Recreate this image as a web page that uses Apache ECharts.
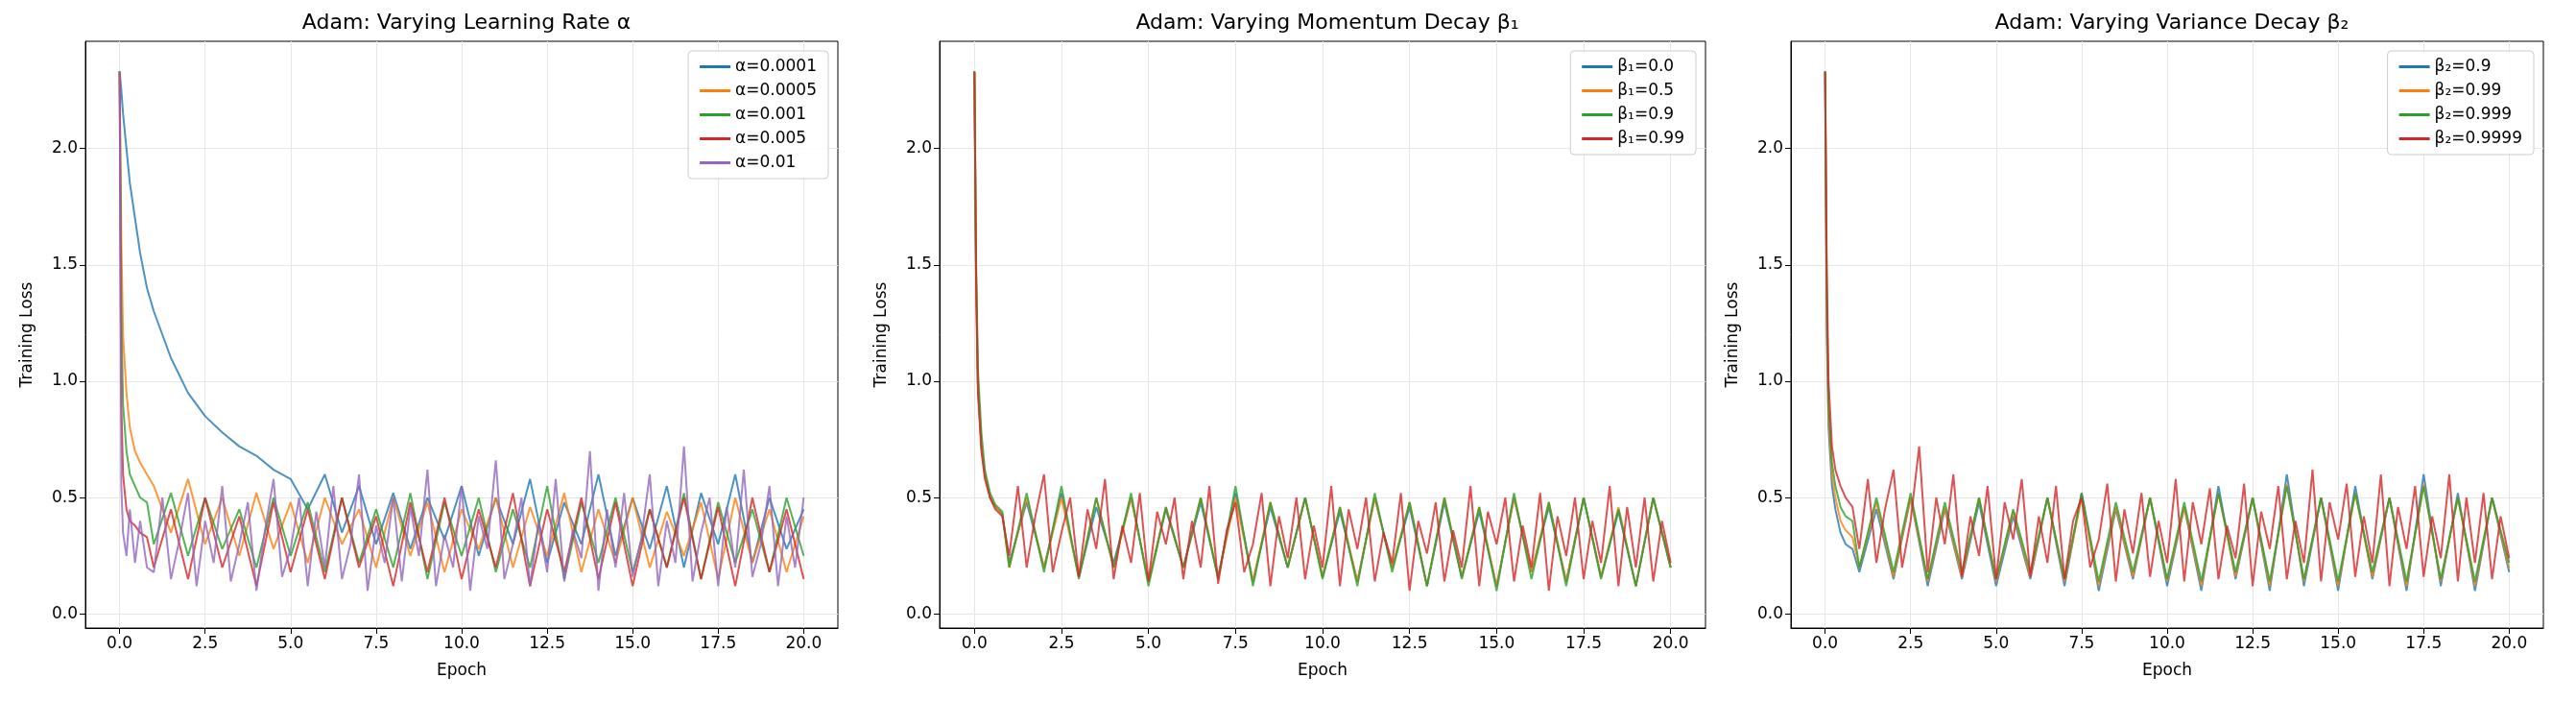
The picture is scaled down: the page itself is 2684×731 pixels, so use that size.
<!DOCTYPE html><html><head><meta charset="utf-8"><script src="https://cdn.jsdelivr.net/npm/echarts@6/dist/echarts.min.js"></script>
<style>html,body{margin:0;background:#fff}#c{width:2684px;height:731px}</style></head><body><div id="c"></div><script>
const epochsHead=[0,0.05,0.1,0.2,0.3,0.45,0.6,0.8];
const epochsTail=[1,1.5,2,2.5,3,3.5,4,4.5,5,5.5,6,6.5,7,7.5,8,8.5,9,9.5,10,10.5,11,11.5,12,12.5,13,13.5,14,14.5,15,15.5,16,16.5,17,17.5,18,18.5,19,19.5,20];
const epochsDenseTail=[1,1.25,1.5,1.75,2,2.25,2.5,2.75,3,3.25,3.5,3.75,4,4.25,4.5,4.75,5,5.25,5.5,5.75,6,6.25,6.5,6.75,7,7.25,7.5,7.75,8,8.25,8.5,8.75,9,9.25,9.5,9.75,10,10.25,10.5,10.75,11,11.25,11.5,11.75,12,12.25,12.5,12.75,13,13.25,13.5,13.75,14,14.25,14.5,14.75,15,15.25,15.5,15.75,16,16.25,16.5,16.75,17,17.25,17.5,17.75,18,18.25,18.5,18.75,19,19.25,19.5,19.75,20];
const epochs=epochsHead.concat(epochsTail);
const epochsDense=epochsHead.concat(epochsDenseTail);
const xTicks=[0,2.5,5,7.5,10,12.5,15,17.5,20];
const yTicks=[0,0.5,1,1.5,2];
// Panel 1
const lr1=[2.33,2.25,2.15,2.0,1.85,1.7,1.55,1.4,1.3,1.1,0.95,0.85,0.78,0.72,0.68,0.62,0.58,0.45,0.6,0.35,0.55,0.3,0.52,0.28,0.5,0.32,0.55,0.25,0.5,0.3,0.58,0.22,0.48,0.3,0.6,0.25,0.5,0.28,0.55,0.2,0.52,0.3,0.6,0.22,0.5,0.28,0.45];
const lr2=[2.33,1.6,1.2,0.95,0.8,0.7,0.65,0.6,0.55,0.35,0.58,0.3,0.5,0.25,0.52,0.28,0.48,0.22,0.5,0.3,0.45,0.2,0.5,0.25,0.48,0.18,0.45,0.28,0.5,0.2,0.46,0.25,0.52,0.18,0.45,0.22,0.5,0.2,0.44,0.25,0.48,0.15,0.5,0.22,0.45,0.18,0.42];
const lr3=[2.33,1.3,0.9,0.7,0.6,0.55,0.5,0.48,0.3,0.52,0.25,0.5,0.28,0.45,0.2,0.5,0.25,0.48,0.18,0.5,0.22,0.45,0.2,0.52,0.15,0.48,0.25,0.5,0.18,0.45,0.2,0.55,0.15,0.48,0.22,0.5,0.18,0.45,0.2,0.52,0.15,0.48,0.22,0.45,0.18,0.5,0.25];
const lr4=[2.33,0.9,0.6,0.45,0.4,0.38,0.35,0.33,0.2,0.45,0.15,0.5,0.2,0.42,0.12,0.48,0.18,0.45,0.15,0.5,0.2,0.42,0.12,0.48,0.18,0.5,0.15,0.45,0.2,0.52,0.12,0.45,0.18,0.5,0.15,0.48,0.12,0.45,0.2,0.5,0.15,0.46,0.12,0.5,0.18,0.45,0.15];
const lr5=[2.33,0.55,0.35,0.25,0.45,0.22,0.4,0.2,
 0.18,0.5,0.15,0.32,0.52,0.12,0.4,0.22,0.55,0.14,0.3,0.48,0.1,0.36,0.58,0.16,0.28,0.5,0.12,0.44,0.2,0.55,0.15,0.3,
 0.6,0.1,0.38,0.22,0.5,0.14,0.46,0.25,0.62,0.12,0.34,0.2,0.55,0.1,0.42,0.28,0.66,0.15,0.3,0.5,0.12,0.4,0.18,0.58,
 0.14,0.36,0.24,0.7,0.1,0.45,0.2,0.52,0.16,0.32,0.6,0.12,0.4,0.22,0.72,0.14,0.35,0.5,0.12,0.46,0.2,0.62,0.16,0.3,
 0.55,0.12,0.42,0.2,0.5];
// Panel 2
const b1a=[2.33,1.45,1.0,0.72,0.6,0.5,0.46,0.43,0.22,0.48,0.2,0.52,0.16,0.46,0.22,0.5,0.14,0.45,0.2,0.48,0.16,0.52,0.14,0.46,0.2,0.5,0.16,0.44,0.14,0.5,0.2,0.46,0.12,0.48,0.16,0.44,0.12,0.5,0.18,0.46,0.14,0.5,0.16,0.44,0.12,0.5,0.2];
const b1b=[2.33,1.42,0.98,0.72,0.6,0.5,0.46,0.43,0.2,0.5,0.2,0.5,0.16,0.5,0.2,0.5,0.14,0.46,0.2,0.5,0.16,0.5,0.14,0.48,0.2,0.5,0.16,0.46,0.14,0.5,0.2,0.48,0.12,0.5,0.16,0.46,0.12,0.5,0.18,0.48,0.14,0.5,0.16,0.46,0.12,0.5,0.2];
const b1c=[2.33,1.5,1.05,0.78,0.62,0.52,0.47,0.44,0.2,0.52,0.18,0.55,0.15,0.5,0.2,0.52,0.12,0.46,0.2,0.5,0.15,0.55,0.12,0.48,0.2,0.5,0.15,0.46,0.12,0.52,0.18,0.48,0.12,0.5,0.15,0.46,0.1,0.52,0.15,0.48,0.12,0.5,0.15,0.45,0.12,0.5,0.2];
const b1d=[2.33,1.4,0.95,0.7,0.58,0.5,0.45,0.42,
 0.25,0.55,0.2,0.42,0.6,0.18,0.35,0.5,0.16,0.45,0.28,0.58,0.15,0.38,0.22,0.52,0.14,0.44,0.3,0.5,0.15,0.4,0.2,0.55,
 0.13,0.36,0.48,0.18,0.3,0.52,0.12,0.42,0.24,0.5,0.15,0.38,0.2,0.55,0.12,0.45,0.28,0.5,0.14,0.35,0.22,0.52,0.1,0.4,
 0.26,0.48,0.14,0.36,0.2,0.55,0.12,0.44,0.3,0.5,0.14,0.38,0.2,0.52,0.1,0.42,0.25,0.5,0.15,0.4,0.22,0.55,0.12,0.46,
 0.2,0.5,0.14,0.4,0.22];
// Panel 3
const b2a=[2.33,1.2,0.8,0.55,0.45,0.35,0.3,0.28,0.18,0.45,0.15,0.5,0.12,0.45,0.15,0.48,0.12,0.42,0.15,0.5,0.12,0.52,0.1,0.45,0.15,0.5,0.12,0.46,0.1,0.55,0.15,0.5,0.1,0.6,0.12,0.5,0.1,0.55,0.15,0.5,0.1,0.6,0.12,0.52,0.1,0.5,0.18];
const b2b=[2.33,1.3,0.85,0.6,0.5,0.4,0.36,0.33,0.2,0.48,0.16,0.5,0.14,0.46,0.16,0.5,0.14,0.44,0.16,0.5,0.14,0.5,0.12,0.46,0.16,0.5,0.14,0.46,0.12,0.52,0.16,0.5,0.12,0.56,0.14,0.5,0.12,0.52,0.16,0.5,0.12,0.56,0.14,0.5,0.12,0.5,0.2];
const b2c=[2.33,1.35,0.9,0.65,0.55,0.46,0.42,0.4,0.2,0.5,0.18,0.52,0.15,0.48,0.18,0.5,0.15,0.45,0.18,0.5,0.15,0.52,0.14,0.48,0.18,0.5,0.15,0.48,0.14,0.52,0.18,0.5,0.14,0.55,0.15,0.5,0.14,0.52,0.18,0.5,0.14,0.55,0.15,0.5,0.14,0.5,0.22];
const b2d=[2.33,1.45,1.0,0.72,0.62,0.55,0.5,0.46,
 0.28,0.58,0.22,0.45,0.62,0.2,0.4,0.72,0.18,0.5,0.3,0.6,0.16,0.42,0.25,0.55,0.15,0.48,0.32,0.58,0.16,0.42,0.22,0.55,
 0.15,0.4,0.5,0.2,0.32,0.56,0.14,0.45,0.26,0.52,0.16,0.4,0.22,0.58,0.14,0.48,0.3,0.54,0.15,0.38,0.24,0.56,0.12,0.44,
 0.28,0.55,0.15,0.4,0.22,0.62,0.14,0.48,0.32,0.56,0.16,0.42,0.22,0.6,0.12,0.46,0.28,0.55,0.16,0.42,0.24,0.6,0.14,0.5,
 0.22,0.52,0.15,0.42,0.24];

const C=['#1f77b4','#ff7f0e','#2ca02c','#d62728','#9467bd'];
const panels=[
 {title:'Adam: Varying Learning Rate α',names:['α=0.0001','α=0.0005','α=0.001','α=0.005','α=0.01'],vals:[lr1,lr2,lr3,lr4,lr5],left:89,right:873},
 {title:'Adam: Varying Momentum Decay β₁',names:['β₁=0.0','β₁=0.5','β₁=0.9','β₁=0.99'],vals:[b1a,b1b,b1c,b1d],left:979,right:1777},
 {title:'Adam: Varying Variance Decay β₂',names:['β₂=0.9','β₂=0.99','β₂=0.999','β₂=0.9999'],vals:[b2a,b2b,b2c,b2d],left:1866,right:2650}
];
const f='DejaVu Sans';
const opt={animation:false,title:[],grid:[],xAxis:[],yAxis:[],legend:[],series:[]};
panels.forEach((p,i)=>{
 const w=p.right-p.left;
 opt.title.push({text:p.title,left:p.left+w/2,top:8,textAlign:'center',textStyle:{fontFamily:f,fontSize:22,fontWeight:'normal',color:'#000'}});
 opt.grid.push({left:p.left,top:43,width:w,height:611,show:true,borderColor:'#000',borderWidth:1});
 opt.xAxis.push({type:'value',gridIndex:i,min:-1,max:21,name:'Epoch',nameLocation:'middle',nameGap:36,nameTextStyle:{fontFamily:f,fontSize:17,color:'#000'},
  axisLine:{onZero:false,lineStyle:{color:'#000'}},axisTick:{customValues:xTicks,length:6,lineStyle:{color:'#000'}},
  axisLabel:{customValues:xTicks,fontFamily:f,fontSize:17,color:'#000',formatter:v=>v.toFixed(1)},
  splitLine:{show:true,lineStyle:{color:'#e6e6e6'}}});
 opt.yAxis.push({type:'value',gridIndex:i,min:-0.06,max:2.46,name:'Training Loss',nameLocation:'middle',nameGap:52,nameTextStyle:{fontFamily:f,fontSize:17,color:'#000'},
  axisLine:{show:true,onZero:false,lineStyle:{color:'#000'}},axisTick:{show:true,customValues:yTicks,length:6,lineStyle:{color:'#000'}},
  axisLabel:{customValues:yTicks,fontFamily:f,fontSize:17,color:'#000',formatter:v=>v.toFixed(1)},
  splitLine:{show:true,lineStyle:{color:'#e6e6e6'}}});
 opt.legend.push({data:p.names,orient:'vertical',right:2684-p.right+10,top:53,itemWidth:32,itemHeight:3,itemGap:8,icon:'rect',
  borderColor:'#ccc',borderWidth:1,borderRadius:4,padding:[8,12],backgroundColor:'rgba(255,255,255,0.85)',
  textStyle:{fontFamily:f,fontSize:17,color:'#000'}});
 p.names.forEach((n,k)=>{
  const v=p.vals[k];
  const xs=v.length>60?epochsDense:epochs;
  opt.series.push({type:'line',name:n,xAxisIndex:i,yAxisIndex:i,showSymbol:false,symbol:'none',
   data:v.map((y,j)=>[xs[j],y]),lineStyle:{width:2,opacity:0.8},color:C[k]});
 });
});
echarts.init(document.getElementById('c')).setOption(opt);
</script></body></html>
